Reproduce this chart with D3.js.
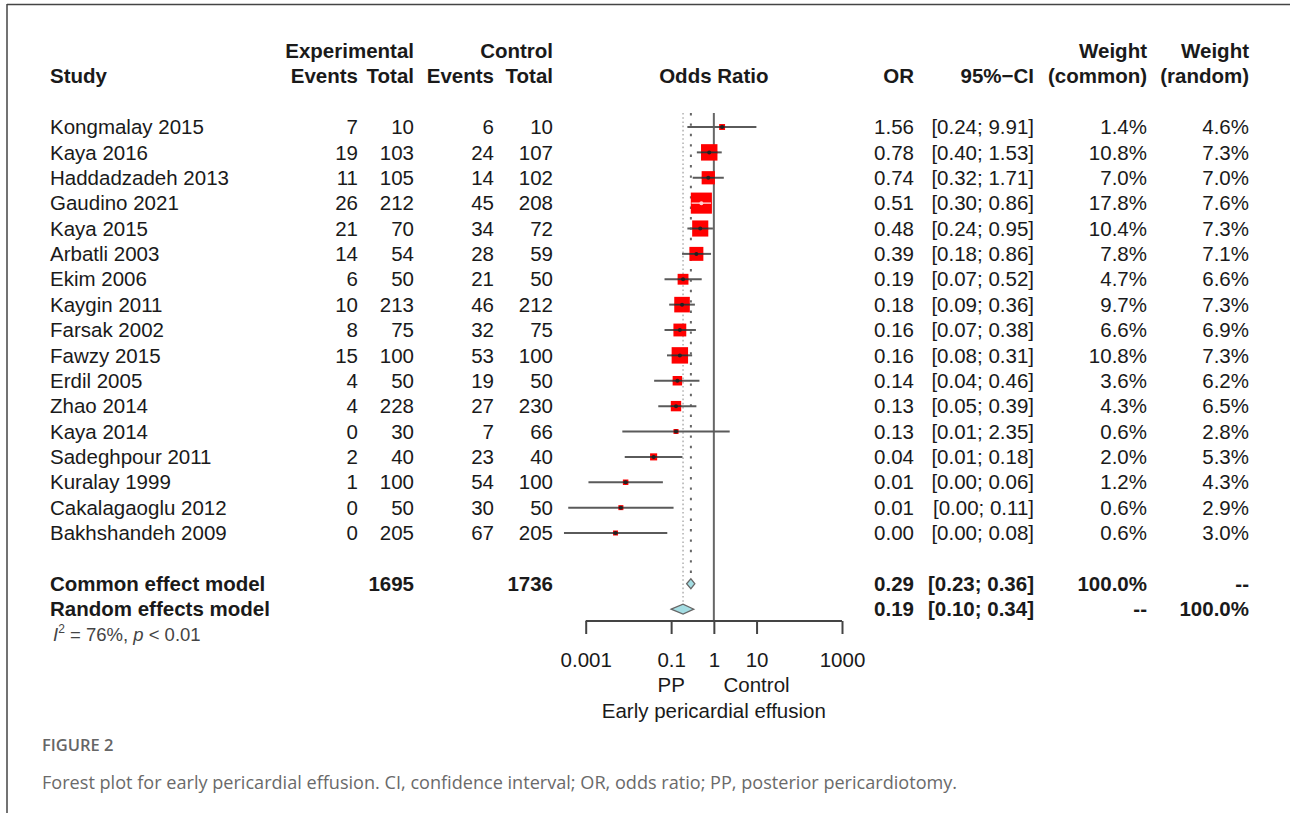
<!DOCTYPE html>
<html><head><meta charset="utf-8">
<script src="https://cdn.jsdelivr.net/npm/d3@7/dist/d3.min.js"></script>
<style>
body{margin:0;background:#fff;}
svg{display:block;}
</style>
</head><body>
<svg id="chart" width="1290" height="813"></svg>
<script>
// ---------------- data ----------------
const studies = ["Kongmalay 2015","Kaya 2016","Haddadzadeh 2013","Gaudino 2021","Kaya 2015","Arbatli 2003","Ekim 2006","Kaygin 2011","Farsak 2002","Fawzy 2015","Erdil 2005","Zhao 2014","Kaya 2014","Sadeghpour 2011","Kuralay 1999","Cakalagaoglu 2012","Bakhshandeh 2009"];
const expEvents = [7,19,11,26,21,14,6,10,8,15,4,4,0,2,1,0,0];
const expTotal = [10,103,105,212,70,54,50,213,75,100,50,228,30,40,100,50,205];
const ctrlEvents = [6,24,14,45,34,28,21,46,32,53,19,27,7,23,54,30,67];
const ctrlTotal = [10,107,102,208,72,59,50,212,75,100,50,230,66,40,100,50,205];
const oddsRatio = [1.56,0.78,0.74,0.51,0.48,0.39,0.19,0.18,0.16,0.16,0.14,0.13,0.130,0.0389,0.0086,0.00666,0.00499];
const ciLower = [0.24,0.40,0.32,0.30,0.24,0.18,0.07,0.09,0.07,0.08,0.04,0.05,0.0072,0.0082,0.00116,0.00039,0.00031];
const ciUpper = [9.91,1.53,1.71,0.86,0.95,0.86,0.52,0.36,0.38,0.31,0.46,0.39,2.35,0.184,0.0641,0.114,0.0813];
const weightCommon = [1.4,10.8,7.0,17.8,10.4,7.8,4.7,9.7,6.6,10.8,3.6,4.3,0.6,2.0,1.2,0.6,0.6];
const weightRandom = [4.6,7.3,7.0,7.6,7.3,7.1,6.6,7.3,6.9,7.3,6.2,6.5,2.8,5.3,4.3,2.9,3.0];

const modelNames = ["Common effect model","Random effects model"];
const modelOR = [0.29,0.19];
const modelLower = [0.23,0.10];
const modelUpper = [0.36,0.34];
const modelExpTotal = ["1695",""];
const modelCtrlTotal = ["1736",""];
const modelWeightCommon = ["100.0%","--"];
const modelWeightRandom = ["--","100.0%"];

const axisTicks = [0.001,0.1,1,10,1000];
const axisTickLabels = ["0.001","0.1","1","10","1000"];
const heterogeneity = {i2:"76%", p:"< 0.01"};

// ---------------- layout ----------------
const svg = d3.select("#chart");
const FONT = "'Liberation Sans', Arial, Helvetica, sans-serif";
const FS = 20.5;
const TXT = "#1a1a1a";
const rowY = d3.scaleLinear().domain([0,1]).range([127,127+25.375]);
const x = d3.scaleLog().domain([0.001,1000]).range([585.7,842]);

// frame
svg.append("line").attr("x1",7).attr("x2",1290).attr("y1",4.5).attr("y2",4.5).attr("stroke","#444").attr("stroke-width",1.5);
svg.append("line").attr("x1",7).attr("x2",7).attr("y1",4).attr("y2",813).attr("stroke","#444").attr("stroke-width",1.5);

const g = svg.append("g").attr("font-family",FONT).attr("font-size",FS).attr("fill",TXT);

function txt(xp, yp, s, anchor, bold){
  return g.append("text").attr("x",xp).attr("y",yp).attr("dy","0.35em")
    .attr("text-anchor",anchor||"start").attr("font-weight",bold?"bold":"normal").text(s);
}

// column right edges
const col = {study:50, expEv:358, expTot:414, ctlEv:494, ctlTot:553, or:914, ci:1034, wc:1147, wr:1249};

// headers
const h1 = rowY(-3), h2 = rowY(-2);
txt(col.expTot,h1,"Experimental","end",true);
txt(col.ctlTot,h1,"Control","end",true);
txt(col.wc,h1,"Weight","end",true);
txt(col.wr,h1,"Weight","end",true);
txt(col.study,h2,"Study","start",true);
txt(col.expEv,h2,"Events","end",true);
txt(col.expTot,h2,"Total","end",true);
txt(col.ctlEv,h2,"Events","end",true);
txt(col.ctlTot,h2,"Total","end",true);
txt(x(1),h2,"Odds Ratio","middle",true);
txt(col.or,h2,"OR","end",true);
txt(col.ci,h2,"95%\u2212CI","end",true);
txt(col.wc,h2,"(common)","end",true);
txt(col.wr,h2,"(random)","end",true);

const f2 = v => v.toFixed(2);

// reference lines
const plotTop = 113;
const axisY = 621;
svg.append("line").attr("x1",x(modelOR[1])).attr("x2",x(modelOR[1]))
  .attr("y1",plotTop).attr("y2",rowY(19)-5).attr("stroke","#b5b5b5").attr("stroke-width",1.6).attr("stroke-dasharray","1.6,2.6");
svg.append("line").attr("x1",x(modelOR[0])).attr("x2",x(modelOR[0]))
  .attr("y1",plotTop).attr("y2",rowY(18)-6).attr("stroke","#666").attr("stroke-width",2).attr("stroke-dasharray","2.4,8");
svg.append("line").attr("x1",x(1)).attr("x2",x(1))
  .attr("y1",plotTop).attr("y2",axisY).attr("stroke","#666").attr("stroke-width",2);

// studies
studies.forEach((s,i)=>{
  const y = rowY(i);
  txt(col.study,y,s);
  txt(col.expEv,y,expEvents[i],"end");
  txt(col.expTot,y,expTotal[i],"end");
  txt(col.ctlEv,y,ctrlEvents[i],"end");
  txt(col.ctlTot,y,ctrlTotal[i],"end");
  txt(col.or,y,f2(oddsRatio[i]),"end");
  txt(col.ci,y,"["+f2(ciLower[i])+"; "+f2(ciUpper[i])+"]","end");
  txt(col.wc,y,weightCommon[i].toFixed(1)+"%","end");
  txt(col.wr,y,weightRandom[i].toFixed(1)+"%","end");

  const cx = x(oddsRatio[i]);
  const side = Math.max(5.0*Math.sqrt(weightCommon[i]), 5);
  const xl = x(ciLower[i]), xh = x(ciUpper[i]);
  const inside = xl > cx-side/2 && xh < cx+side/2;
  svg.append("line").attr("x1",xl).attr("x2",xh).attr("y1",y).attr("y2",y)
    .attr("stroke","#5a5a5a").attr("stroke-width",2);
  svg.append("rect").attr("x",cx-side/2).attr("y",y-side/2).attr("width",side).attr("height",side)
    .attr("fill","#ff0000");
  svg.append("line").attr("x1",Math.max(xl,cx-side/2)).attr("x2",Math.min(xh,cx+side/2)).attr("y1",y).attr("y2",y)
    .attr("stroke",inside?"#ffd0d0":"#333").attr("stroke-width",inside?1.4:1.8);
  svg.append("circle").attr("cx",cx).attr("cy",y).attr("r",2)
    .attr("fill",inside?"#ffd0d0":"#222");
});

// models
modelNames.forEach((m,i)=>{
  const y = rowY(18+i);
  txt(col.study,y,m,"start",true);
  txt(col.expTot,y,modelExpTotal[i],"end",true);
  txt(col.ctlTot,y,modelCtrlTotal[i],"end",true);
  txt(col.or,y,f2(modelOR[i]),"end",true);
  txt(col.ci,y,"["+f2(modelLower[i])+"; "+f2(modelUpper[i])+"]","end",true);
  txt(col.wc,y,modelWeightCommon[i],"end",true);
  txt(col.wr,y,modelWeightRandom[i],"end",true);
  const hh = 5;
  const pts = [[x(modelLower[i]),y],[x(modelOR[i]),y-hh],[x(modelUpper[i]),y],[x(modelOR[i]),y+hh]];
  svg.append("path").attr("d",d3.line()(pts)+"Z").attr("fill","#a4dde3").attr("stroke","#666").attr("stroke-width",1.2);
});

// heterogeneity
const ht = g.append("text").attr("x",53).attr("y",rowY(20)).attr("dy","0.35em")
  .attr("font-size",18.5).attr("fill","#444");
ht.append("tspan").attr("font-style","italic").text("I");
ht.append("tspan").attr("font-size",12).attr("dy",-8).text("2");
ht.append("tspan").attr("dy",8).text(" = "+heterogeneity.i2+", ");
ht.append("tspan").attr("font-style","italic").text("p");
ht.append("tspan").text(" "+heterogeneity.p);

// axis
const axis = d3.axisBottom(x).tickValues(axisTicks).tickFormat((d,i)=>axisTickLabels[i]).tickSizeInner(13).tickSizeOuter(0).tickPadding(14);
const ag = svg.append("g").attr("transform",`translate(0,${axisY})`).call(axis);
ag.select(".domain").attr("stroke","#444").attr("stroke-width",2).attr("d",`M${x(0.001)},0H${x(1000)}`);
ag.selectAll(".tick line").attr("stroke","#444").attr("stroke-width",2);
ag.selectAll(".tick text").attr("font-family",FONT).attr("font-size",FS).attr("fill",TXT).attr("dy",null).attr("y",rowY(21)-axisY).attr("dominant-baseline","central");

txt(x(0.1),rowY(22),"PP","middle");
txt(x(10),rowY(22),"Control","middle");
txt(x(1),rowY(23),"Early pericardial effusion","middle");

// caption
const cap = svg.append("g").attr("font-family","'Open Sans', 'Noto Sans', sans-serif").attr("fill","#666");
cap.append("text").attr("x",42).attr("y",751).attr("font-size",16.5).attr("font-weight",600).text("FIGURE 2");
cap.append("text").attr("x",42).attr("y",789).attr("font-size",18.1).attr("fill","#6a6a6a")
  .text("Forest plot for early pericardial effusion. CI, confidence interval; OR, odds ratio; PP, posterior pericardiotomy.");
</script>
</body></html>
